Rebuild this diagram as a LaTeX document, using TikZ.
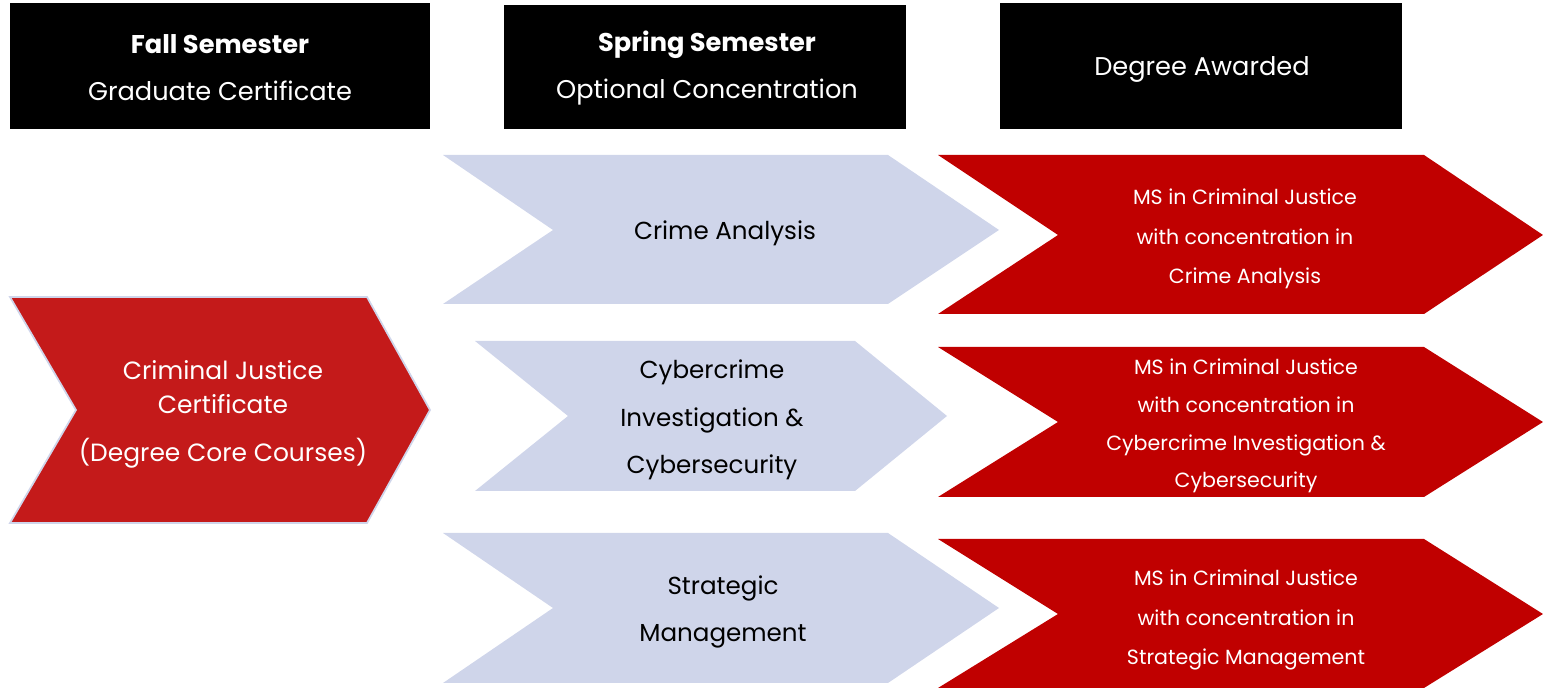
\documentclass[tikz,border=0pt]{standalone}
\usepackage{fontspec}
\setmainfont{Poppins}
\usetikzlibrary{positioning}
\definecolor{paleblue}{HTML}{CFD5EA}
\definecolor{msred}{HTML}{C00000}
\definecolor{certred}{HTML}{C41A1A}

\tikzset{
  headbox/.style={fill=black},
  headtext/.style={text=white, align=center, font=\fontsize{14.6}{26.6}\selectfont},
  bluechev/.style={fill=paleblue},
  redchev/.style={fill=msred},
  bluetext/.style={text=black, align=center, font=\fontsize{14}{27}\selectfont},
  redtext/.style={text=white, align=center, font=\fontsize{11.7}{22.5}\selectfont},
}

\begin{document}
\begin{tikzpicture}[x=0.02cm, y=-0.02cm]
        \useasboundingbox (0,0) rectangle (1543,688);
        % header boxes
        \fill[headbox] (10,3) rectangle (430,129);
        \fill[headbox] (504,5) rectangle (906,129);
        \fill[headbox] (1000,3) rectangle (1402,129);
        \node[headtext] (fallhead) at (220,68) {\textbf{Fall Semester}\\Graduate Certificate};
        \node[headtext] (springhead) at (707,68) {\textbf{Spring Semester}\\Optional Concentration};
        \node[headtext] (degreehead) at (1202,69) {Degree Awarded};
        % certificate chevron
        \draw[fill=certred, draw=paleblue, line width=1pt]
            (10,297)--(367,297)--(430,410)--(367,523)--(10,523)--(76,410)--cycle;
        \node[text=white, align=center, font=\fontsize{14.2}{19.3}\selectfont] (cert) at (223,414)
            {Criminal Justice\\Certificate\\[8pt](Degree Core Courses)};
        % concentration chevrons
        \fill[bluechev] (443,155)--(888,155)--(999,230)--(888,304)--(443,304)--(553,230)--cycle;
        \fill[bluechev] (475,341)--(855,341)--(947,416)--(855,491)--(475,491)--(568,416)--cycle;
        \fill[bluechev] (443,533)--(888,533)--(999,608)--(888,683)--(443,683)--(553,608)--cycle;
        \node[bluetext] (crime) at (725,233) {Crime Analysis};
        \node[bluetext] (cyber) at (712,420) {Cybercrime\\Investigation \&\\Cybersecurity};
        \node[bluetext] (strategic) at (723,612) {Strategic\\Management};
        % degree chevrons
        \fill[redchev] (938,155)--(1424,155)--(1543,235)--(1424,314)--(938,314)--(1058,235)--cycle;
        \fill[redchev] (938,347)--(1424,347)--(1543,422)--(1424,497)--(938,497)--(1058,422)--cycle;
        \fill[redchev] (938,539)--(1424,539)--(1543,614)--(1424,688)--(938,688)--(1058,614)--cycle;
        \node[redtext] (mscrime) at (1245,239) {MS in Criminal Justice\\with concentration in\\Crime Analysis};
        \node[redtext, font=\fontsize{11.7}{21.5}\selectfont] (mscyber) at (1246,426)
            {MS in Criminal Justice\\with concentration in\\Cybercrime Investigation \&\\Cybersecurity};
        \node[redtext] (msstrat) at (1246,620) {MS in Criminal Justice\\with concentration in\\Strategic Management};
\end{tikzpicture}
\end{document}
